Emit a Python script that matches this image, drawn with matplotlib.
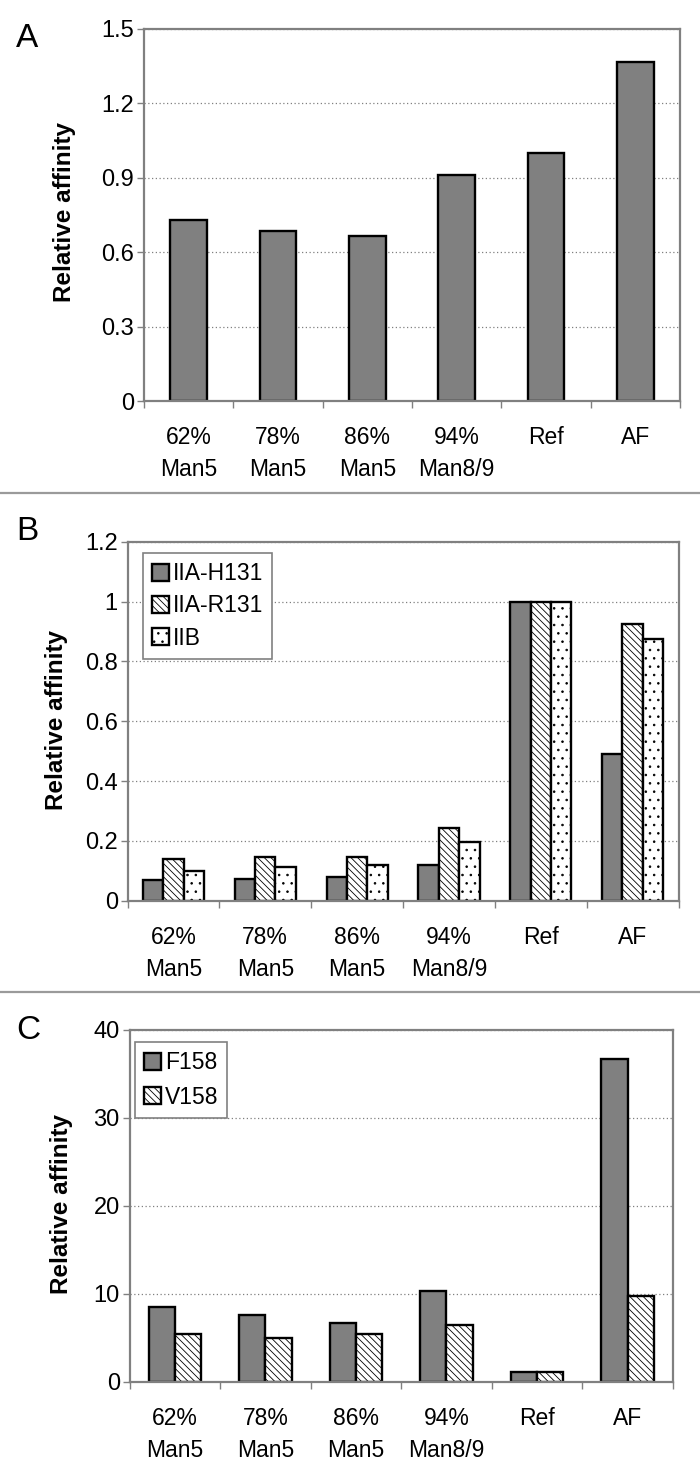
import numpy as np
import matplotlib
matplotlib.use("Agg")
import matplotlib.pyplot as plt

plt.rcParams['font.family'] = ['Liberation Sans', 'DejaVu Sans']
plt.rcParams['hatch.linewidth'] = 0.6

categories = ["62%\nMan5", "78%\nMan5", "86%\nMan5", "94%\nMan8/9", "Ref", "AF"]

# panel A
a_vals = [0.73, 0.685, 0.665, 0.91, 1.0, 1.365]

# panel B
b_names = ["IIA-H131", "IIA-R131", "IIB"]
b_h131 = [0.068, 0.073, 0.078, 0.118, 1.0, 0.492]
b_r131 = [0.138, 0.145, 0.145, 0.243, 1.0, 0.925]
b_iib = [0.098, 0.112, 0.118, 0.196, 1.0, 0.875]

# panel C
c_names = ["F158", "V158"]
c_f158 = [8.5, 7.6, 6.7, 10.3, 1.1, 36.7]
c_v158 = [5.4, 5.0, 5.4, 6.5, 1.1, 9.7]

W, H = 700, 1475
GRAY = "#808080"
styles = [dict(color=GRAY, hatch=None),
          dict(color="white", hatch="\\\\\\\\\\"),
          dict(color="white", hatch="..")]


def fig_box(x0, x1, ytop, ybot):
    return [x0 / W, 1 - ybot / H, (x1 - x0) / W, (ybot - ytop) / H]


def setup(ax, yticks):
    n = len(categories)
    ax.set_xlim(-0.5, n - 0.5)
    ax.set_ylim(yticks[0], yticks[-1])
    ax.set_yticks(yticks)
    ax.set_xticks(np.arange(-0.5, n, 1))
    ax.set_xticklabels([])
    ax.set_xticks(np.arange(n), minor=True)
    ax.set_xticklabels(categories, minor=True, fontsize=16.5, linespacing=1.5)
    ax.tick_params(axis="x", which="major", length=5, width=1, color=GRAY, direction="out")
    ax.tick_params(axis="x", which="minor", length=0, pad=18)
    ax.tick_params(axis="y", length=5, width=1, color=GRAY, labelsize=17, pad=2)
    ax.yaxis.grid(True, linestyle=(0, (1, 2)), color=GRAY, linewidth=0.9)
    ax.set_axisbelow(True)
    for s in ax.spines.values():
        s.set_color(GRAY)
        s.set_linewidth(1.6)


def add_legend(ax, anchor, spacing):
    leg = ax.legend(loc="upper left", bbox_to_anchor=anchor, borderaxespad=0,
                    fontsize=16.5, frameon=True, fancybox=False, edgecolor=GRAY,
                    handlelength=0.75, handleheight=0.75, handletextpad=0.15,
                    labelspacing=spacing, borderpad=0.4, framealpha=1)
    leg.get_frame().set_linewidth(1.2)


fig = plt.figure(figsize=(W / 100, H / 100), dpi=100)
x = np.arange(len(categories))

# A
axA = fig.add_axes(fig_box(144, 680, 29, 401))
axA.bar(x, a_vals, width=0.41, color=GRAY, edgecolor="black", linewidth=1.7)
setup(axA, [0, 0.3, 0.6, 0.9, 1.2, 1.5])
axA.set_yticklabels(["0", "0.3", "0.6", "0.9", "1.2", "1.5"])

# B
axB = fig.add_axes(fig_box(127.5, 678.6, 541.7, 900.7))
bw = 0.222
for k, vals in enumerate([b_h131, b_r131, b_iib]):
    axB.bar(x + (k - 1) * bw, vals, width=bw, color=styles[k]["color"],
            hatch=styles[k]["hatch"], edgecolor="black", linewidth=1.7,
            label=b_names[k])
setup(axB, [0, 0.2, 0.4, 0.6, 0.8, 1.0, 1.2])
axB.set_yticklabels(["0", "0.2", "0.4", "0.6", "0.8", "1", "1.2"])
add_legend(axB, (0.028, 0.9685), 0.4)

# C
axC = fig.add_axes(fig_box(129.5, 672.8, 1030, 1381.7))
cw = 0.29
for k, vals in enumerate([c_f158, c_v158]):
    axC.bar(x + (k - 0.5) * cw, vals, width=cw, color=styles[k]["color"],
            hatch=styles[k]["hatch"], edgecolor="black", linewidth=1.7,
            label=c_names[k])
setup(axC, [0, 10, 20, 30, 40])
add_legend(axC, (0.0101, 0.966), 0.5)

# y labels and panel letters
for xc, yc in [(65, 212.5), (56, 720), (62, 1204)]:
    fig.text(xc / W, 1 - yc / H, "Relative affinity", rotation=90, ha="center",
             va="center", fontsize=17.5, fontweight="bold")
for letter, xl, yb in [("A", 16, 47), ("B", 16, 540), ("C", 16, 1039)]:
    fig.text(xl / W, 1 - yb / H, letter, fontsize=24, ha="left", va="baseline")

# separators between panels
for ys in [493, 992]:
    fig.add_artist(plt.Line2D([0, 1], [1 - ys / H] * 2, color="#9a9a9a", linewidth=1.6))

fig.savefig("out.png", dpi=100)
